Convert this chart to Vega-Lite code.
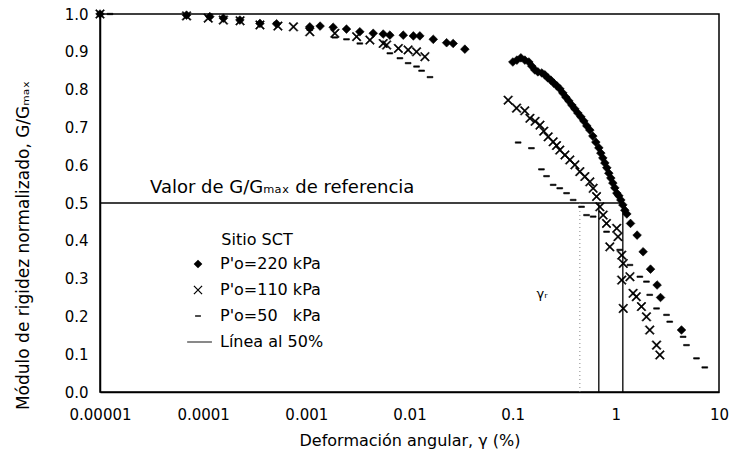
{
  "$schema": "https://vega.github.io/schema/vega-lite/v6.json",
  "width": 619,
  "height": 378,
  "autosize": {"type": "none"},
  "padding": {"left": 100, "top": 14, "right": 14, "bottom": 68},
  "background": "white",
  "config": {
    "view": {"stroke": "black", "strokeWidth": 1.5},
    "font": "DejaVu Sans",
    "axis": {"grid": false, "ticks": false, "domainColor": "black", "domainWidth": 1.5, "labelColor": "black", "titleColor": "black", "labelFont": "DejaVu Sans", "titleFont": "DejaVu Sans", "titleFontWeight": "normal", "labelFontSize": 15, "titleFontSize": 16, "labelOverlap": false},
    "axisY": {"labelOverlap": false},
    "axisQuantitative": {"labelOverlap": false}
  },
  "datasets": {
    "pts": [
      {"g": 0.00001, "G": 1.0, "s": "P'o=220 kPa"},
      {"g": 0.000069, "G": 0.997, "s": "P'o=220 kPa"},
      {"g": 0.000116, "G": 0.993, "s": "P'o=220 kPa"},
      {"g": 0.000157, "G": 0.989, "s": "P'o=220 kPa"},
      {"g": 0.000227, "G": 0.984, "s": "P'o=220 kPa"},
      {"g": 0.000355, "G": 0.975, "s": "P'o=220 kPa"},
      {"g": 0.000515, "G": 0.974, "s": "P'o=220 kPa"},
      {"g": 0.00108, "G": 0.966, "s": "P'o=220 kPa"},
      {"g": 0.00136, "G": 0.968, "s": "P'o=220 kPa"},
      {"g": 0.00182, "G": 0.965, "s": "P'o=220 kPa"},
      {"g": 0.00245, "G": 0.96, "s": "P'o=220 kPa"},
      {"g": 0.0033, "G": 0.953, "s": "P'o=220 kPa"},
      {"g": 0.00445, "G": 0.949, "s": "P'o=220 kPa"},
      {"g": 0.00556, "G": 0.947, "s": "P'o=220 kPa"},
      {"g": 0.00645, "G": 0.944, "s": "P'o=220 kPa"},
      {"g": 0.0087, "G": 0.944, "s": "P'o=220 kPa"},
      {"g": 0.0109, "G": 0.942, "s": "P'o=220 kPa"},
      {"g": 0.0126, "G": 0.942, "s": "P'o=220 kPa"},
      {"g": 0.017, "G": 0.933, "s": "P'o=220 kPa"},
      {"g": 0.0229, "G": 0.924, "s": "P'o=220 kPa"},
      {"g": 0.0265, "G": 0.922, "s": "P'o=220 kPa"},
      {"g": 0.0344, "G": 0.907, "s": "P'o=220 kPa"},
      {"g": 0.1004, "G": 0.873, "s": "P'o=220 kPa"},
      {"g": 0.1099, "G": 0.878, "s": "P'o=220 kPa"},
      {"g": 0.1201, "G": 0.884, "s": "P'o=220 kPa"},
      {"g": 0.1313, "G": 0.878, "s": "P'o=220 kPa"},
      {"g": 0.1435, "G": 0.873, "s": "P'o=220 kPa"},
      {"g": 0.1535, "G": 0.862, "s": "P'o=220 kPa"},
      {"g": 0.1641, "G": 0.852, "s": "P'o=220 kPa"},
      {"g": 0.1755, "G": 0.847, "s": "P'o=220 kPa"},
      {"g": 0.1918, "G": 0.844, "s": "P'o=220 kPa"},
      {"g": 0.2051, "G": 0.839, "s": "P'o=220 kPa"},
      {"g": 0.2194, "G": 0.831, "s": "P'o=220 kPa"},
      {"g": 0.2345, "G": 0.825, "s": "P'o=220 kPa"},
      {"g": 0.2507, "G": 0.817, "s": "P'o=220 kPa"},
      {"g": 0.2681, "G": 0.81, "s": "P'o=220 kPa"},
      {"g": 0.2867, "G": 0.802, "s": "P'o=220 kPa"},
      {"g": 0.3065, "G": 0.791, "s": "P'o=220 kPa"},
      {"g": 0.3277, "G": 0.78, "s": "P'o=220 kPa"},
      {"g": 0.3504, "G": 0.77, "s": "P'o=220 kPa"},
      {"g": 0.3747, "G": 0.759, "s": "P'o=220 kPa"},
      {"g": 0.4006, "G": 0.749, "s": "P'o=220 kPa"},
      {"g": 0.4283, "G": 0.738, "s": "P'o=220 kPa"},
      {"g": 0.458, "G": 0.728, "s": "P'o=220 kPa"},
      {"g": 0.4896, "G": 0.717, "s": "P'o=220 kPa"},
      {"g": 0.5236, "G": 0.704, "s": "P'o=220 kPa"},
      {"g": 0.5598, "G": 0.693, "s": "P'o=220 kPa"},
      {"g": 0.5985, "G": 0.677, "s": "P'o=220 kPa"},
      {"g": 0.64, "G": 0.661, "s": "P'o=220 kPa"},
      {"g": 0.6843, "G": 0.646, "s": "P'o=220 kPa"},
      {"g": 0.7155, "G": 0.632, "s": "P'o=220 kPa"},
      {"g": 0.7482, "G": 0.619, "s": "P'o=220 kPa"},
      {"g": 0.7823, "G": 0.606, "s": "P'o=220 kPa"},
      {"g": 0.818, "G": 0.593, "s": "P'o=220 kPa"},
      {"g": 0.8553, "G": 0.579, "s": "P'o=220 kPa"},
      {"g": 0.8944, "G": 0.566, "s": "P'o=220 kPa"},
      {"g": 0.9353, "G": 0.553, "s": "P'o=220 kPa"},
      {"g": 0.9779, "G": 0.54, "s": "P'o=220 kPa"},
      {"g": 1.0226, "G": 0.526, "s": "P'o=220 kPa"},
      {"g": 1.0693, "G": 0.519, "s": "P'o=220 kPa"},
      {"g": 1.118, "G": 0.508, "s": "P'o=220 kPa"},
      {"g": 1.169, "G": 0.495, "s": "P'o=220 kPa"},
      {"g": 1.222, "G": 0.481, "s": "P'o=220 kPa"},
      {"g": 1.278, "G": 0.471, "s": "P'o=220 kPa"},
      {"g": 1.388, "G": 0.446, "s": "P'o=220 kPa"},
      {"g": 1.608, "G": 0.415, "s": "P'o=220 kPa"},
      {"g": 1.839, "G": 0.371, "s": "P'o=220 kPa"},
      {"g": 2.169, "G": 0.325, "s": "P'o=220 kPa"},
      {"g": 2.513, "G": 0.283, "s": "P'o=220 kPa"},
      {"g": 2.711, "G": 0.25, "s": "P'o=220 kPa"},
      {"g": 4.33, "G": 0.164, "s": "P'o=220 kPa"},

      {"g": 0.00001, "G": 1.0, "s": "P'o=110 kPa"},
      {"g": 0.000069, "G": 0.995, "s": "P'o=110 kPa"},
      {"g": 0.000112, "G": 0.989, "s": "P'o=110 kPa"},
      {"g": 0.000157, "G": 0.984, "s": "P'o=110 kPa"},
      {"g": 0.000228, "G": 0.982, "s": "P'o=110 kPa"},
      {"g": 0.000355, "G": 0.971, "s": "P'o=110 kPa"},
      {"g": 0.00053, "G": 0.968, "s": "P'o=110 kPa"},
      {"g": 0.00075, "G": 0.966, "s": "P'o=110 kPa"},
      {"g": 0.00108, "G": 0.953, "s": "P'o=110 kPa"},
      {"g": 0.00189, "G": 0.949, "s": "P'o=110 kPa"},
      {"g": 0.00307, "G": 0.94, "s": "P'o=110 kPa"},
      {"g": 0.00413, "G": 0.931, "s": "P'o=110 kPa"},
      {"g": 0.00556, "G": 0.922, "s": "P'o=110 kPa"},
      {"g": 0.006, "G": 0.918, "s": "P'o=110 kPa"},
      {"g": 0.0078, "G": 0.909, "s": "P'o=110 kPa"},
      {"g": 0.0097, "G": 0.905, "s": "P'o=110 kPa"},
      {"g": 0.0117, "G": 0.9, "s": "P'o=110 kPa"},
      {"g": 0.0141, "G": 0.887, "s": "P'o=110 kPa"},
      {"g": 0.0904, "G": 0.772, "s": "P'o=110 kPa"},
      {"g": 0.109, "G": 0.751, "s": "P'o=110 kPa"},
      {"g": 0.131, "G": 0.744, "s": "P'o=110 kPa"},
      {"g": 0.147, "G": 0.724, "s": "P'o=110 kPa"},
      {"g": 0.165, "G": 0.716, "s": "P'o=110 kPa"},
      {"g": 0.184, "G": 0.706, "s": "P'o=110 kPa"},
      {"g": 0.2, "G": 0.69, "s": "P'o=110 kPa"},
      {"g": 0.221, "G": 0.675, "s": "P'o=110 kPa"},
      {"g": 0.247, "G": 0.662, "s": "P'o=110 kPa"},
      {"g": 0.266, "G": 0.652, "s": "P'o=110 kPa"},
      {"g": 0.286, "G": 0.64, "s": "P'o=110 kPa"},
      {"g": 0.321, "G": 0.627, "s": "P'o=110 kPa"},
      {"g": 0.358, "G": 0.614, "s": "P'o=110 kPa"},
      {"g": 0.401, "G": 0.601, "s": "P'o=110 kPa"},
      {"g": 0.448, "G": 0.583, "s": "P'o=110 kPa"},
      {"g": 0.501, "G": 0.57, "s": "P'o=110 kPa"},
      {"g": 0.56, "G": 0.556, "s": "P'o=110 kPa"},
      {"g": 0.603, "G": 0.539, "s": "P'o=110 kPa"},
      {"g": 0.65, "G": 0.517, "s": "P'o=110 kPa"},
      {"g": 0.7, "G": 0.49, "s": "P'o=110 kPa"},
      {"g": 0.754, "G": 0.468, "s": "P'o=110 kPa"},
      {"g": 0.812, "G": 0.446, "s": "P'o=110 kPa"},
      {"g": 1.02, "G": 0.433, "s": "P'o=110 kPa"},
      {"g": 1.05, "G": 0.411, "s": "P'o=110 kPa"},
      {"g": 0.874, "G": 0.384, "s": "P'o=110 kPa"},
      {"g": 1.14, "G": 0.362, "s": "P'o=110 kPa"},
      {"g": 1.18, "G": 0.34, "s": "P'o=110 kPa"},
      {"g": 1.14, "G": 0.296, "s": "P'o=110 kPa"},
      {"g": 1.37, "G": 0.305, "s": "P'o=110 kPa"},
      {"g": 1.47, "G": 0.261, "s": "P'o=110 kPa"},
      {"g": 1.18, "G": 0.221, "s": "P'o=110 kPa"},
      {"g": 1.58, "G": 0.252, "s": "P'o=110 kPa"},
      {"g": 1.77, "G": 0.226, "s": "P'o=110 kPa"},
      {"g": 1.98, "G": 0.199, "s": "P'o=110 kPa"},
      {"g": 2.13, "G": 0.164, "s": "P'o=110 kPa"},
      {"g": 2.48, "G": 0.124, "s": "P'o=110 kPa"},
      {"g": 2.67, "G": 0.098, "s": "P'o=110 kPa"},

      {"g": 0.0000125, "G": 1.0, "s": "P'o=50  kPa"},
      {"g": 0.00108, "G": 0.958, "s": "P'o=50  kPa"},
      {"g": 0.00189, "G": 0.938, "s": "P'o=50  kPa"},
      {"g": 0.00245, "G": 0.933, "s": "P'o=50  kPa"},
      {"g": 0.0033, "G": 0.922, "s": "P'o=50  kPa"},
      {"g": 0.00645, "G": 0.896, "s": "P'o=50  kPa"},
      {"g": 0.00807, "G": 0.883, "s": "P'o=50  kPa"},
      {"g": 0.0097, "G": 0.87, "s": "P'o=50  kPa"},
      {"g": 0.0117, "G": 0.861, "s": "P'o=50  kPa"},
      {"g": 0.0131, "G": 0.85, "s": "P'o=50  kPa"},
      {"g": 0.0158, "G": 0.833, "s": "P'o=50  kPa"},
      {"g": 0.113, "G": 0.66, "s": "P'o=50  kPa"},
      {"g": 0.152, "G": 0.645, "s": "P'o=50  kPa"},
      {"g": 0.19, "G": 0.589, "s": "P'o=50  kPa"},
      {"g": 0.213, "G": 0.571, "s": "P'o=50  kPa"},
      {"g": 0.247, "G": 0.548, "s": "P'o=50  kPa"},
      {"g": 0.286, "G": 0.539, "s": "P'o=50  kPa"},
      {"g": 0.333, "G": 0.526, "s": "P'o=50  kPa"},
      {"g": 0.386, "G": 0.508, "s": "P'o=50  kPa"},
      {"g": 0.465, "G": 0.49, "s": "P'o=50  kPa"},
      {"g": 0.52, "G": 0.468, "s": "P'o=50  kPa"},
      {"g": 0.603, "G": 0.464, "s": "P'o=50  kPa"},
      {"g": 0.813, "G": 0.424, "s": "P'o=50  kPa"},
      {"g": 1.09, "G": 0.376, "s": "P'o=50  kPa"},
      {"g": 1.37, "G": 0.336, "s": "P'o=50  kPa"},
      {"g": 1.71, "G": 0.305, "s": "P'o=50  kPa"},
      {"g": 1.98, "G": 0.292, "s": "P'o=50  kPa"},
      {"g": 2.13, "G": 0.257, "s": "P'o=50  kPa"},
      {"g": 2.48, "G": 0.221, "s": "P'o=50  kPa"},
      {"g": 3.1, "G": 0.204, "s": "P'o=50  kPa"},
      {"g": 3.33, "G": 0.186, "s": "P'o=50  kPa"},
      {"g": 4.49, "G": 0.146, "s": "P'o=50  kPa"},
      {"g": 4.84, "G": 0.124, "s": "P'o=50  kPa"},
      {"g": 6.05, "G": 0.089, "s": "P'o=50  kPa"},
      {"g": 7.28, "G": 0.065, "s": "P'o=50  kPa"}
    ],
    "lines": [
      {"x1": 0.00001, "x2": 1.169, "y1": 0.5, "y2": 0.5, "k": "solid"},
      {"x1": 0.684, "x2": 0.684, "y1": 0, "y2": 0.5, "k": "solid"},
      {"x1": 1.169, "x2": 1.169, "y1": 0, "y2": 0.5, "k": "solid"},
      {"x1": 0.448, "x2": 0.448, "y1": 0, "y2": 0.5, "k": "dotted"}
    ],
    "notes": [
      {"x": 0.0000305, "y": 0.527, "t": "Valor de G/Gₘₐₓ de referencia", "sz": 18},
      {"x": 0.17, "y": 0.25, "t": "γᵣ", "sz": 13}
    ]
  },
  "layer": [
    {
      "data": {"name": "lines"},
      "mark": {"type": "rule", "color": "black", "strokeWidth": 1.3},
      "transform": [{"filter": "datum.k === 'solid'"}],
      "encoding": {
        "x": {"field": "x1", "type": "quantitative", "scale": {"type": "log", "domain": [0.00001, 10]},
          "axis": {"values": [0.00001, 0.0001, 0.001, 0.01, 0.1, 1, 10], "format": "~f", "labelPadding": 15, "title": "Deformación angular, γ (%)", "titlePadding": 10, "labelFlush": false, "labelOverlap": false}},
        "x2": {"field": "x2"},
        "y": {"field": "y1", "type": "quantitative", "scale": {"domain": [0, 1], "nice": false},
          "axis": {"values": [0, 0.1, 0.2, 0.3, 0.4, 0.5, 0.6, 0.7, 0.8, 0.9, 1.0], "tickCount": 11, "format": ".1f", "labelPadding": 12, "labelOverlap": false, "labelBound": false, "labelFlush": false, "labelSeparation": 0, "title": "Módulo de rigidez normalizado, G/Gₘₐₓ", "titleFontSize": 17, "titleX": -77, "titleY": 231, "titleAngle": 270, "titleAlign": "center", "titleBaseline": "middle"}},
        "y2": {"field": "y2"}
      }
    },
    {
      "data": {"name": "lines"},
      "mark": {"type": "rule", "color": "#888888", "strokeWidth": 1, "strokeDash": [1, 3]},
      "transform": [{"filter": "datum.k === 'dotted'"}],
      "encoding": {
        "x": {"field": "x1", "type": "quantitative"},
        "x2": {"field": "x2"},
        "y": {"field": "y1", "type": "quantitative"},
        "y2": {"field": "y2"}
      }
    },
    {
      "data": {"name": "pts"},
      "mark": {"type": "point", "filled": true, "color": "black", "stroke": "black", "strokeWidth": 0.6, "size": 60, "opacity": 1},
      "encoding": {
        "x": {"field": "g", "type": "quantitative"},
        "y": {"field": "G", "type": "quantitative"},
        "shape": {
          "field": "s", "type": "nominal",
          "scale": {
            "domain": ["P'o=220 kPa", "P'o=110 kPa", "P'o=50  kPa", "Línea al 50%"],
            "range": [
              "M-1.12,0L0,-1.12L1.12,0L0,1.12Z",
              "M-0.937,-1.163L1.163,0.937L0.937,1.163L-1.163,-0.937ZM-0.937,1.163L-1.163,0.937L0.937,-1.163L1.163,-0.937Z",
              "M-0.75,-0.18L0.75,-0.18L0.75,0.18L-0.75,0.18Z",
              "M-2.8,-0.12L3.6,-0.12L3.6,0.12L-2.8,0.12Z"
            ]
          },
          "legend": {
            "orient": "none", "legendX": 90, "legendY": 218,
            "title": "Sitio SCT", "titleFont": "DejaVu Sans", "titleFontWeight": "normal", "titleFontSize": 16, "titleColor": "black", "titleAnchor": "middle", "titlePadding": 8,
            "labelFont": "DejaVu Sans", "labelFontSize": 16, "labelColor": "black", "labelOffset": 14,
            "symbolSize": 60, "symbolFillColor": "black", "symbolStrokeColor": "black", "symbolStrokeWidth": 0.6, "rowPadding": 10,
            "labelExpr": "replace(datum.label, '  ', '\u00a0\u00a0\u00a0')",
            "encode": {
              "symbols": {"update": {"fill": {"value": "black"}, "opacity": {"value": 1}}},
              "title": {"update": {"dx": {"value": 14}}}
            }
          }
        }
      }
    },
    {
      "data": {"name": "notes"},
      "mark": {"type": "text", "align": "left", "baseline": "alphabetic", "color": "black", "font": "DejaVu Sans"},
      "encoding": {
        "x": {"field": "x", "type": "quantitative"},
        "y": {"field": "y", "type": "quantitative"},
        "text": {"field": "t"},
        "size": {"field": "sz", "type": "quantitative", "scale": null}
      }
    }
  ]
}
